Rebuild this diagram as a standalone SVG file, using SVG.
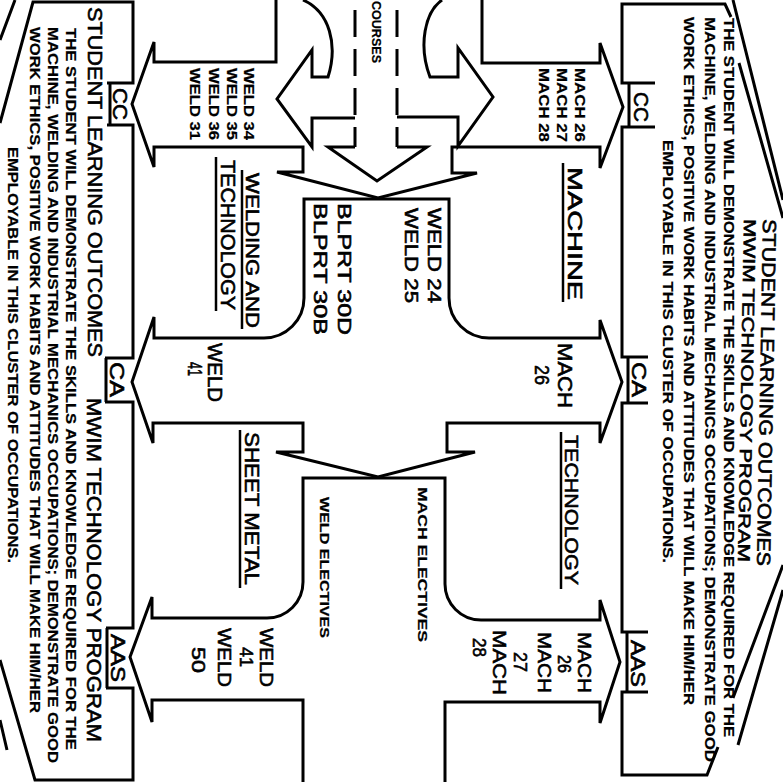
<svg xmlns="http://www.w3.org/2000/svg" width="783" height="782" viewBox="0 0 783 782">
<style>
.ln{fill:none;stroke:#000;stroke-width:3;stroke-linejoin:miter;stroke-linecap:butt}
.ul{fill:none;stroke:#000;stroke-width:2.5}
.dash{fill:none;stroke:#000;stroke-width:3;stroke-dasharray:27 12}
text{font-family:"Liberation Sans",Arial,sans-serif;fill:#000;stroke:#000;stroke-width:0.6}
.b{font-weight:bold;stroke-width:0.2}
</style>
<rect width="783" height="782" fill="#fff"/>

<g id="left-panel">
<path class="ln" d="M15,0 L0,40 M0,123 L33,2 H133 V83 H107 M110,83 V125 M107,125 H133 V358 H105 M106,358 V402 M105,402 H133 V628 H106 M107,628 V688 M106,688 H133 V780 H35 L0,660 M7,750 L0,720"/>
<text transform="translate(88,7) rotate(90)" font-size="21" textLength="350" lengthAdjust="spacingAndGlyphs">STUDENT LEARNING OUTCOMES</text>
<text transform="translate(87,398) rotate(90)" font-size="21" textLength="344" lengthAdjust="spacingAndGlyphs">MWIM TECHNOLOGY PROGRAM</text>
<text class="b" transform="translate(66,28) rotate(90)" font-size="15" textLength="722" lengthAdjust="spacingAndGlyphs">THE STUDENT WILL DEMONSTRATE THE SKILLS AND KNOWLEDGE REQUIRED FOR THE</text>
<text class="b" transform="translate(48,27) rotate(90)" font-size="15" textLength="736" lengthAdjust="spacingAndGlyphs">MACHINE, WELDING AND INDUSTRIAL MECHANICS OCCUPATIONS; DEMONSTRATE GOOD</text>
<text class="b" transform="translate(30,27) rotate(90)" font-size="15" textLength="686" lengthAdjust="spacingAndGlyphs">WORK ETHICS, POSITIVE WORK HABITS AND ATTITUDES THAT WILL MAKE HIM/HER</text>
<text class="b" transform="translate(8,147) rotate(90)" font-size="15" textLength="416" lengthAdjust="spacingAndGlyphs">EMPLOYABLE IN THIS CLUSTER OF OCCUPATIONS.</text>
<text transform="translate(113,88) rotate(90)" font-size="20" textLength="32" lengthAdjust="spacingAndGlyphs">CC</text>
<text transform="translate(110,362) rotate(90)" font-size="20" textLength="35" lengthAdjust="spacingAndGlyphs">CA</text>
<text transform="translate(111,634) rotate(90)" font-size="20" textLength="48" lengthAdjust="spacingAndGlyphs">AAS</text>
</g>

<g id="right-panel">
<path class="ln" d="M655,83 H622 V4 H725 L731,17 M629,83 V127 M655,127 H622 V357 H648 M628,357 V403 M648,403 H622 V632 H648 M627,632 V692 M648,692 H622 V775 H707 L718,747 M733,0 L783,200 M739,63 L783,218 M783,565 L733,698 M783,590 L738,745"/>
<text transform="translate(763,219) rotate(91)" font-size="19" textLength="347" lengthAdjust="spacingAndGlyphs">STUDENT LEARNING OUTCOMES</text>
<text transform="translate(744,219) rotate(91)" font-size="17" textLength="343" lengthAdjust="spacingAndGlyphs">MWIM TECHNOLOGY PROGRAM</text>
<text class="b" transform="translate(724,18) rotate(90)" font-size="14.5" textLength="719" lengthAdjust="spacingAndGlyphs">THE STUDENT WILL DEMONSTRATE THE SKILLS AND KNOWLEDGE REQUIRED FOR THE</text>
<text class="b" transform="translate(705,17) rotate(90)" font-size="14.5" textLength="745" lengthAdjust="spacingAndGlyphs">MACHINE, WELDING AND INDUSTRIAL MECHANICS OCCUPATIONS; DEMONSTRATE GOOD</text>
<text class="b" transform="translate(684,17) rotate(90)" font-size="14.5" textLength="688" lengthAdjust="spacingAndGlyphs">WORK ETHICS, POSITIVE WORK HABITS AND ATTITUDES THAT WILL MAKE HIM/HER</text>
<text class="b" transform="translate(663,140) rotate(90)" font-size="14.5" textLength="423" lengthAdjust="spacingAndGlyphs">EMPLOYABLE IN THIS CLUSTER OF OCCUPATIONS.</text>
<text transform="translate(634,92) rotate(90)" font-size="20" textLength="30" lengthAdjust="spacingAndGlyphs">CC</text>
<text transform="translate(632,362) rotate(90)" font-size="20" textLength="35" lengthAdjust="spacingAndGlyphs">CA</text>
<text transform="translate(631,640) rotate(90)" font-size="20" textLength="47" lengthAdjust="spacingAndGlyphs">AAS</text>
</g>

<g id="connectors">
<path class="ln" d="M276,0 V62 H154 V42 L132,104 L154,167 V147 H303 V172 H277 L378,198 L477,173 H452 V147 H600 V168 L623,107 L600,43 V63 H482 V0"/>
<path class="ln" d="M449,298 V199 H304 V298 A40,40 0 0 1 264,338 H154 V317 L132,382 L153,443 V423 H303 V452 H276 L378,477 L475,452 H447 V423 H600 V443 L622,382 L600,320 V338 H489 A40,40 0 0 1 449,298 Z"/>
<path class="ln" d="M303,782 V700 H152 V722 L130,657 L152,597 V618 H267 A36,36 0 0 0 303,582 V478 H445 V584 A36,36 0 0 0 481,620 H600 V600 L620,662 L600,723 V702 H445 V782"/>
<path class="ln" d="M303,0 C330,12 338,45 328,77 H312 V50 L277,99 L312,147 V118 H355"/>
<path class="ln" d="M442,0 C425,12 418,45 430,77 H458 V48 L493,97 L458,146 V117 H397"/>
<path class="ln" d="M355,147 H328 L377,181 L427,147 H397"/>
<path class="dash" d="M355,10 V147 M397,10 V147"/>
<text class="b" transform="translate(372,1) rotate(90)" font-size="12" textLength="62" lengthAdjust="spacingAndGlyphs">COURSES</text>
</g>

<g id="cc-left-courses">
<text class="b" transform="translate(244,68) rotate(90)" font-size="15" textLength="72" lengthAdjust="spacingAndGlyphs">WELD 34</text>
<text class="b" transform="translate(227,68) rotate(90)" font-size="15" textLength="72" lengthAdjust="spacingAndGlyphs">WELD 35</text>
<text class="b" transform="translate(209,68) rotate(90)" font-size="15" textLength="72" lengthAdjust="spacingAndGlyphs">WELD 36</text>
<text class="b" transform="translate(190,68) rotate(90)" font-size="15" textLength="72" lengthAdjust="spacingAndGlyphs">WELD 31</text>
</g>

<g id="cc-right-courses">
<text class="b" transform="translate(575,68) rotate(90)" font-size="15" textLength="74" lengthAdjust="spacingAndGlyphs">MACH 26</text>
<text class="b" transform="translate(557,68) rotate(90)" font-size="15" textLength="74" lengthAdjust="spacingAndGlyphs">MACH 27</text>
<text class="b" transform="translate(539,68) rotate(90)" font-size="15" textLength="74" lengthAdjust="spacingAndGlyphs">MACH 28</text>
</g>

<g id="machine">
<text transform="translate(568,167) rotate(90)" font-size="20" textLength="133" lengthAdjust="spacingAndGlyphs">MACHINE</text>
<path class="ul" d="M563,163 V302"/>
</g>

<g id="welding-technology">
<text transform="translate(246,173) rotate(90)" font-size="18" textLength="155" lengthAdjust="spacingAndGlyphs">WELDING AND</text>
<path class="ul" d="M242,170 V329"/>
<text transform="translate(221,160) rotate(90)" font-size="20" textLength="150" lengthAdjust="spacingAndGlyphs">TECHNOLOGY</text>
<path class="ul" d="M216,157 V311"/>
</g>

<g id="core-box">
<text transform="translate(428,208) rotate(90)" font-size="19" textLength="95" lengthAdjust="spacingAndGlyphs">WELD 24</text>
<text transform="translate(405,208) rotate(90)" font-size="19" textLength="95" lengthAdjust="spacingAndGlyphs">WELD 25</text>
<text transform="translate(338,203) rotate(90)" font-size="19" textLength="132" lengthAdjust="spacingAndGlyphs">BLPRT 30D</text>
<text transform="translate(314,203) rotate(90)" font-size="19" textLength="132" lengthAdjust="spacingAndGlyphs">BLPRT 30B</text>
</g>

<g id="ca-left-courses">
<text transform="translate(208,343) rotate(90)" font-size="20" textLength="59" lengthAdjust="spacingAndGlyphs">WELD</text>
<text transform="translate(188,362) rotate(90)" font-size="20" textLength="14" lengthAdjust="spacingAndGlyphs">41</text>
</g>

<g id="ca-right-courses">
<text transform="translate(558,343) rotate(90)" font-size="20" textLength="65" lengthAdjust="spacingAndGlyphs">MACH</text>
<text transform="translate(535,365) rotate(90)" font-size="20" textLength="20" lengthAdjust="spacingAndGlyphs">26</text>
</g>

<g id="sheet-metal">
<text transform="translate(245,432) rotate(90)" font-size="20" textLength="153" lengthAdjust="spacingAndGlyphs">SHEET METAL</text>
<path class="ul" d="M240,430 V588"/>
</g>

<g id="technology-right">
<text transform="translate(565,435) rotate(90)" font-size="19" textLength="150" lengthAdjust="spacingAndGlyphs">TECHNOLOGY</text>
<path class="ul" d="M561,432 V589"/>
</g>

<g id="electives-box">
<text class="b" transform="translate(418,487) rotate(90)" font-size="12" textLength="155" lengthAdjust="spacingAndGlyphs">MACH ELECTIVES</text>
<text class="b" transform="translate(320,497) rotate(90)" font-size="12" textLength="141" lengthAdjust="spacingAndGlyphs">WELD ELECTIVES</text>
</g>

<g id="aas-left-courses">
<text transform="translate(260,628) rotate(90)" font-size="19" textLength="59" lengthAdjust="spacingAndGlyphs">WELD</text>
<text transform="translate(240,647) rotate(90)" font-size="19" textLength="20" lengthAdjust="spacingAndGlyphs">41</text>
<text transform="translate(218,628) rotate(90)" font-size="19" textLength="59" lengthAdjust="spacingAndGlyphs">WELD</text>
<text transform="translate(192,647) rotate(90)" font-size="19" textLength="26" lengthAdjust="spacingAndGlyphs">50</text>
</g>

<g id="aas-right-courses">
<text transform="translate(578,632) rotate(90)" font-size="19" textLength="61" lengthAdjust="spacingAndGlyphs">MACH</text>
<text transform="translate(558,655) rotate(90)" font-size="19" textLength="18" lengthAdjust="spacingAndGlyphs">26</text>
<text transform="translate(538,632) rotate(90)" font-size="19" textLength="61" lengthAdjust="spacingAndGlyphs">MACH</text>
<text transform="translate(514,652) rotate(90)" font-size="19" textLength="20" lengthAdjust="spacingAndGlyphs">27</text>
<text transform="translate(493,630) rotate(90)" font-size="19" textLength="65" lengthAdjust="spacingAndGlyphs">MACH</text>
<text transform="translate(473,638) rotate(90)" font-size="19" textLength="19" lengthAdjust="spacingAndGlyphs">28</text>
</g>
</svg>
